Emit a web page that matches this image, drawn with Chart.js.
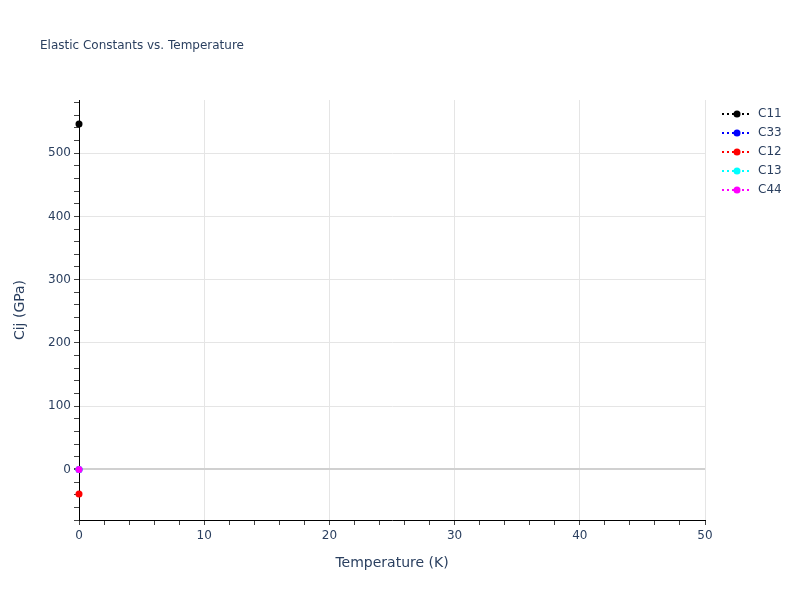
<!DOCTYPE html>
<html>
<head>
<meta charset="utf-8">
<script src="https://cdn.jsdelivr.net/npm/chart.js@4"></script>
<style>
  body { margin: 0; background: #fff; }
  #wrap { width: 800px; height: 600px; }
</style>
</head>
<body>
<div id="wrap"><canvas id="myChart" width="800" height="600"></canvas></div>
<script>
// data: one temperature point only
const temperature = [0];
const seriesNames = ['C11', 'C33', 'C12', 'C13', 'C44'];
const seriesColors = ['#000000', '#0000ff', '#ff0000', '#00ffff', '#ff00ff'];
const c11 = [546];
const c33 = [0];
const c12 = [-39];
const c13 = [0];
const c44 = [0];
const seriesValues = [c11, c33, c12, c13, c44];

const font = '"DejaVu Sans", verdana, sans-serif';
const textColor = '#2a3f5f';

// later series drawn on top, like plotly
const datasets = seriesNames.map((name, i) => ({
  label: name,
  data: temperature.map((t, j) => ({ x: t, y: seriesValues[i][j] })),
  borderColor: seriesColors[i],
  backgroundColor: seriesColors[i],
  borderDash: [2, 3],
  borderWidth: 2,
  showLine: true,
  pointRadius: 3.5,
  pointBorderWidth: 0,
  clip: false,
  order: seriesNames.length - i
}));

// title, axis titles and plotly-like legend
const decorations = {
  id: 'decorations',
  afterDraw(chart) {
    const c = chart.ctx;
    c.save();
    c.fillStyle = textColor;
    c.font = '12px ' + font;
    c.textBaseline = 'middle';
    c.textAlign = 'left';
    c.fillText('Elastic Constants vs. Temperature', 40, 46);

    c.font = '14px ' + font;
    c.textAlign = 'center';
    c.fillText('Temperature (K)', 392, 563);
    c.translate(20, 310);
    c.rotate(-Math.PI / 2);
    c.fillText('Cij (GPa)', 0, 0);
    c.restore();

    c.save();
    seriesNames.forEach((name, i) => {
      const y = 114 + i * 19;
      c.strokeStyle = seriesColors[i];
      c.lineWidth = 2;
      c.setLineDash([2, 3]);
      c.beginPath();
      c.moveTo(722, y);
      c.lineTo(752, y);
      c.stroke();
      c.setLineDash([]);
      c.fillStyle = seriesColors[i];
      c.beginPath();
      c.arc(737, y, 3.5, 0, Math.PI * 2);
      c.fill();
      c.fillStyle = textColor;
      c.font = '12px ' + font;
      c.textAlign = 'left';
      c.textBaseline = 'middle';
      c.fillText(name, 758, y);
    });
    c.restore();
  }
};

new Chart(document.getElementById('myChart'), {
  type: 'scatter',
  data: { datasets: datasets },
  options: {
    responsive: false,
    animation: false,
    layout: { padding: { top: 100, right: 95, left: 0, bottom: 0 } },
    plugins: { legend: { display: false }, tooltip: { enabled: false } },
    scales: {
      x: {
        type: 'linear',
        min: 0,
        max: 50,
        afterFit(s) { s.height = 80; },
        afterBuildTicks(s) {
          s.ticks = [];
          for (let v = 0; v <= 50; v += 2) s.ticks.push({ value: v });
        },
        border: { color: '#000', width: 1 },
        grid: {
          color: ctx => (ctx.tick && ctx.tick.value % 10 === 0 && ctx.tick.value !== 0) ? '#e5e5e5' : 'rgba(0,0,0,0)',
          tickColor: '#444',
          tickLength: 5,
          lineWidth: 1
        },
        ticks: {
          color: textColor,
          font: { family: font, size: 12 },
          padding: 4,
          maxRotation: 0,
          autoSkip: false,
          callback: v => v % 10 === 0 ? v : ''
        }
      },
      y: {
        type: 'linear',
        min: -80,
        max: 584,
        afterFit(s) { s.width = 79; },
        afterBuildTicks(s) {
          s.ticks = [];
          for (let v = -80; v <= 580; v += 20) s.ticks.push({ value: v });
        },
        border: { color: '#000', width: 1 },
        grid: {
          color: ctx => {
            if (!ctx.tick) return 'rgba(0,0,0,0)';
            if (ctx.tick.value === 0) return '#d0d0d0';
            return ctx.tick.value % 100 === 0 ? '#e5e5e5' : 'rgba(0,0,0,0)';
          },
          lineWidth: ctx => (ctx.tick && ctx.tick.value === 0) ? 2 : 1,
          tickColor: '#444',
          tickLength: 5
        },
        ticks: {
          color: textColor,
          font: { family: font, size: 12 },
          padding: 3,
          autoSkip: false,
          callback: v => v % 100 === 0 ? v : ''
        }
      }
    }
  },
  plugins: [decorations]
});
</script>
</body>
</html>
